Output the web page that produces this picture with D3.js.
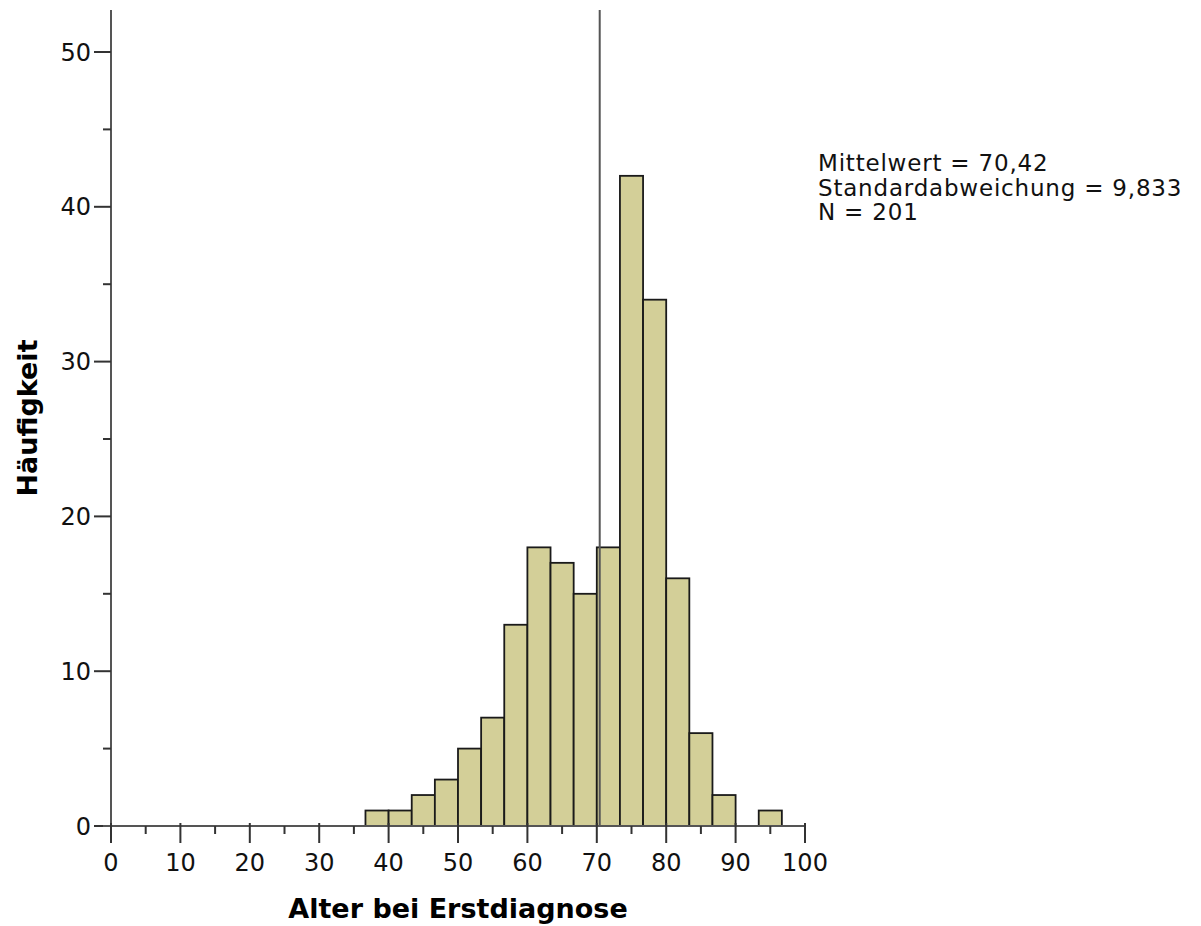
<!DOCTYPE html>
<html>
<head>
<meta charset="utf-8">
<script src="https://cdn.jsdelivr.net/npm/d3@7"></script>
<style>
  body { margin: 0; background: #fff; }
  text { font-family: "DejaVu Sans", sans-serif; }
</style>
</head>
<body>
<svg id="chart"></svg>
<script>
// bins of width 10/3 starting at 36.67
const binStart = 110 / 3;
const binWidth = 10 / 3;
const counts = [1, 1, 2, 3, 5, 7, 13, 18, 17, 15, 18, 42, 34, 16, 6, 2, 0, 1];
const xTicks = [0, 10, 20, 30, 40, 50, 60, 70, 80, 90, 100];
const yTicks = [0, 10, 20, 30, 40, 50];
const meanValue = 70.42;
const statLines = ["Mittelwert = 70,42", "Standardabweichung = 9,833", "N = 201"];

const width = 1201, height = 926;
const margin = { top: 10, left: 111, right: 396, bottom: 100 };

const svg = d3.select("#chart").attr("width", width).attr("height", height);

const x = d3.scaleLinear().domain([0, 100]).range([margin.left, width - margin.right]);
const y = d3.scaleLinear().domain([0, 50]).range([826, 52]);

const bins = counts.map((c, i) => ({ x0: binStart + i * binWidth, x1: binStart + (i + 1) * binWidth, n: c }));

// bars
svg.append("g")
    .selectAll("rect").data(bins.filter(d => d.n > 0))
    .join("rect")
    .attr("x", d => x(d.x0))
    .attr("y", d => y(d.n))
    .attr("width", d => x(d.x1) - x(d.x0))
    .attr("height", d => y(0) - y(d.n))
    .attr("fill", "#d3cf98")
    .attr("stroke", "#1a1a1a")
    .attr("stroke-width", 1.8);

// mean line
svg.append("line")
    .attr("x1", x(meanValue)).attr("x2", x(meanValue))
    .attr("y1", margin.top).attr("y2", y(0))
    .attr("stroke", "#555").attr("stroke-width", 2);

// y axis
const yAxis = svg.append("g").attr("transform", `translate(${x(0)},0)`);
yAxis.append("line")
    .attr("x1", 0).attr("x2", 0).attr("y1", margin.top).attr("y2", y(0))
    .attr("stroke", "#555").attr("stroke-width", 2);
yAxis.selectAll(".minor").data(yTicks.slice(0, -1).map(d => d + 5))
    .join("line").attr("class", "minor")
    .attr("x1", -8).attr("x2", 0).attr("y1", d => y(d)).attr("y2", d => y(d))
    .attr("stroke", "#333").attr("stroke-width", 2);
yAxis.selectAll(".major").data(yTicks)
    .join("line").attr("class", "major")
    .attr("x1", -17).attr("x2", 0).attr("y1", d => y(d)).attr("y2", d => y(d))
    .attr("stroke", "#333").attr("stroke-width", 2);
yAxis.selectAll("text").data(yTicks)
    .join("text")
    .attr("x", -20).attr("y", d => y(d)).attr("dy", "0.36em")
    .attr("text-anchor", "end")
    .attr("font-size", 24).attr("fill", "#111")
    .text(d => d);

// x axis
const xAxis = svg.append("g").attr("transform", `translate(0,${y(0)})`);
xAxis.append("line")
    .attr("x1", x(0) - 8).attr("x2", x(100)).attr("y1", 0).attr("y2", 0)
    .attr("stroke", "#555").attr("stroke-width", 2);
xAxis.selectAll(".minor").data(xTicks.slice(0, -1).map(d => d + 5))
    .join("line").attr("class", "minor")
    .attr("x1", d => x(d)).attr("x2", d => x(d)).attr("y1", 0).attr("y2", 8)
    .attr("stroke", "#333").attr("stroke-width", 2);
xAxis.selectAll(".major").data(xTicks)
    .join("line").attr("class", "major")
    .attr("x1", d => x(d)).attr("x2", d => x(d)).attr("y1", -3).attr("y2", 17)
    .attr("stroke", "#333").attr("stroke-width", 2);
xAxis.selectAll("text").data(xTicks)
    .join("text")
    .attr("x", d => x(d)).attr("y", 45)
    .attr("text-anchor", "middle")
    .attr("font-size", 24).attr("fill", "#111")
    .text(d => d);

// axis titles
svg.append("text")
    .attr("x", (x(0) + x(100)) / 2).attr("y", 918)
    .attr("text-anchor", "middle")
    .attr("font-size", 27).attr("font-weight", "bold")
    .text("Alter bei Erstdiagnose");
svg.append("text")
    .attr("transform", `translate(37,418) rotate(-90)`)
    .attr("text-anchor", "middle")
    .attr("font-size", 27).attr("font-weight", "bold")
    .text("Häufigkeit");

// stats box
svg.append("g").selectAll("text").data(statLines)
    .join("text")
    .attr("x", 818).attr("y", (d, i) => 171 + i * 24.5)
    .attr("font-size", 23).attr("letter-spacing", 0.8).attr("fill", "#111")
    .text(d => d);
</script>
</body>
</html>
